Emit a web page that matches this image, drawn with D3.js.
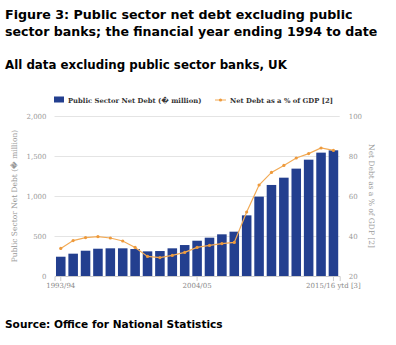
<!DOCTYPE html>
<html>
<head>
<meta charset="utf-8">
<script src="https://cdn.jsdelivr.net/npm/d3@7/dist/d3.min.js"></script>
<style>
  html, body { margin: 0; padding: 0; background: #fff; }
  svg { display: block; }
</style>
</head>
<body>
<svg id="chart" width="396" height="345"></svg>
<script>
// Financial years, 1993/94 to 2015/16
const years = ["1993/94","1994/95","1995/96","1996/97","1997/98","1998/99","1999/00",
  "2000/01","2001/02","2002/03","2003/04","2004/05","2005/06","2006/07","2007/08",
  "2008/09","2009/10","2010/11","2011/12","2012/13","2013/14","2014/15","2015/16 ytd [3]"];

// Public sector net debt excluding public sector banks (£ million)
const debtMillions = [241000, 279000, 316000, 341000, 346000, 346000, 337000, 308000, 312000,
  346000, 387000, 441000, 479000, 521000, 554000, 758000, 992000, 1138000, 1229000,
  1342000, 1454000, 1542000, 1571000];

// Net debt as a % of GDP
const debtPctGdp = [33.8, 37.7, 39.2, 39.7, 39.0, 37.5, 34.3, 29.8, 29.2, 30.3, 31.8, 34.3,
  35.3, 36.2, 36.8, 52.0, 65.5, 71.8, 75.3, 79.0, 81.2, 84.0, 82.8];

const leftTicks = [0, 500000, 1000000, 1500000, 2000000];
const rightTicks = [20, 40, 60, 80, 100];
const xTickLabels = ["1993/94", "2004/05", "2015/16 ytd [3]"];

const svg = d3.select("#chart");
const serif = "'DejaVu Serif', serif";
const sans = "'DejaVu Sans', sans-serif";

const plot = { left: 54.5, right: 339.7, top: 116, bottom: 276 };

const x = d3.scaleBand().domain(years).range([plot.left, plot.right]).paddingInner(0.23).paddingOuter(0.12);
const yL = d3.scaleLinear().domain([0, 2000000]).range([plot.bottom, plot.top]);
const yR = d3.scaleLinear().domain([20, 100]).range([plot.bottom, plot.top]);

// Bold heading text, sized so that it spans the given width
function heading(txt, y, width) {
  const t = svg.append("text").attr("x", 5).attr("y", y).attr("font-family", sans)
    .attr("font-weight", "bold").attr("font-size", 12).attr("fill", "#000").text(txt);
  const w = t.node().getComputedTextLength();
  t.attr("font-size", 12 * width / w);
  return t;
}
heading("Figure 3: Public sector net debt excluding public", 18.5, 348);
heading("sector banks; the financial year ending 1994 to date", 35.5, 373);
heading("All data excluding public sector banks, UK", 69, 282);
heading("Source: Office for National Statistics", 328, 218);

// Gridlines
svg.append("g").selectAll("line").data(leftTicks.slice(1)).join("line")
  .attr("x1", plot.left).attr("x2", plot.right)
  .attr("y1", d => Math.round(yL(d)) + 0.5).attr("y2", d => Math.round(yL(d)) + 0.5)
  .attr("stroke", "#e4e4e4").attr("stroke-width", 1);

// Left axis
const leftAxis = svg.append("g").attr("transform", `translate(${plot.left - 8},0)`)
  .call(d3.axisLeft(yL).tickValues(leftTicks).tickSize(0).tickPadding(0)
    .tickFormat(d => d3.format(",")(d / 1000)));
leftAxis.select(".domain").remove();
leftAxis.selectAll("text").attr("font-family", serif).attr("font-size", 7).attr("fill", "#999");

// Right axis
const rightAxis = svg.append("g").attr("transform", `translate(${plot.right + 9},0)`)
  .call(d3.axisRight(yR).tickValues(rightTicks).tickSize(0).tickPadding(0));
rightAxis.select(".domain").remove();
rightAxis.selectAll("text").attr("font-family", serif).attr("font-size", 7).attr("fill", "#999");

// Bottom axis
const bottom = svg.append("g").attr("transform", `translate(0,${plot.bottom})`)
  .call(d3.axisBottom(x).tickValues(xTickLabels).tickSize(5).tickPadding(2));
bottom.select(".domain").attr("stroke", "#ccc");
bottom.selectAll(".tick line").attr("stroke", "#ccc");
bottom.selectAll("text").attr("font-family", serif).attr("font-size", 7).attr("fill", "#888");

// Bars
svg.append("g").selectAll("rect").data(years).join("rect")
  .attr("x", d => x(d)).attr("width", x.bandwidth())
  .attr("y", (d, i) => yL(debtMillions[i]))
  .attr("height", (d, i) => plot.bottom - yL(debtMillions[i]))
  .attr("fill", "#233f8f");

// Line series
const cx = d => x(d) + x.bandwidth() / 2;
svg.append("path")
  .datum(years)
  .attr("d", d3.line().x(cx).y((d, i) => yR(debtPctGdp[i])))
  .attr("fill", "none").attr("stroke", "#f2aa55").attr("stroke-width", 1.2);
svg.append("g").selectAll("circle").data(years).join("circle")
  .attr("cx", cx).attr("cy", (d, i) => yR(debtPctGdp[i]))
  .attr("r", 1.6).attr("fill", "#ee9a3c");

// Axis titles
svg.append("text").attr("transform", `translate(17,${(plot.top + plot.bottom) / 2}) rotate(-90)`)
  .attr("text-anchor", "middle").attr("font-family", serif).attr("font-size", 7.5).attr("fill", "#999")
  .text("Public Sector Net Debt (\uFFFD million)");
svg.append("text").attr("transform", `translate(369,${(plot.top + plot.bottom) / 2}) rotate(90)`)
  .attr("text-anchor", "middle").attr("font-family", serif).attr("font-size", 7.5).attr("fill", "#999")
  .text("Net Debt as a % of GDP [2]");

// Legend
const lg = svg.append("g");
lg.append("rect").attr("x", 54).attr("y", 96.5).attr("width", 10).attr("height", 6).attr("fill", "#233f8f");
lg.append("text").attr("x", 68).attr("y", 102.5).attr("font-family", serif).attr("font-weight", "bold")
  .attr("font-size", 6.8).attr("fill", "#333").text("Public Sector Net Debt (\uFFFD million)");
lg.append("line").attr("x1", 215).attr("x2", 226).attr("y1", 100).attr("y2", 100)
  .attr("stroke", "#f2aa55").attr("stroke-width", 1);
lg.append("circle").attr("cx", 220.5).attr("cy", 100).attr("r", 1.6).attr("fill", "#ee9a3c");
lg.append("text").attr("x", 230).attr("y", 102.5).attr("font-family", serif).attr("font-weight", "bold")
  .attr("font-size", 6.8).attr("fill", "#333").text("Net Debt as a % of GDP [2]");
</script>
</body>
</html>
